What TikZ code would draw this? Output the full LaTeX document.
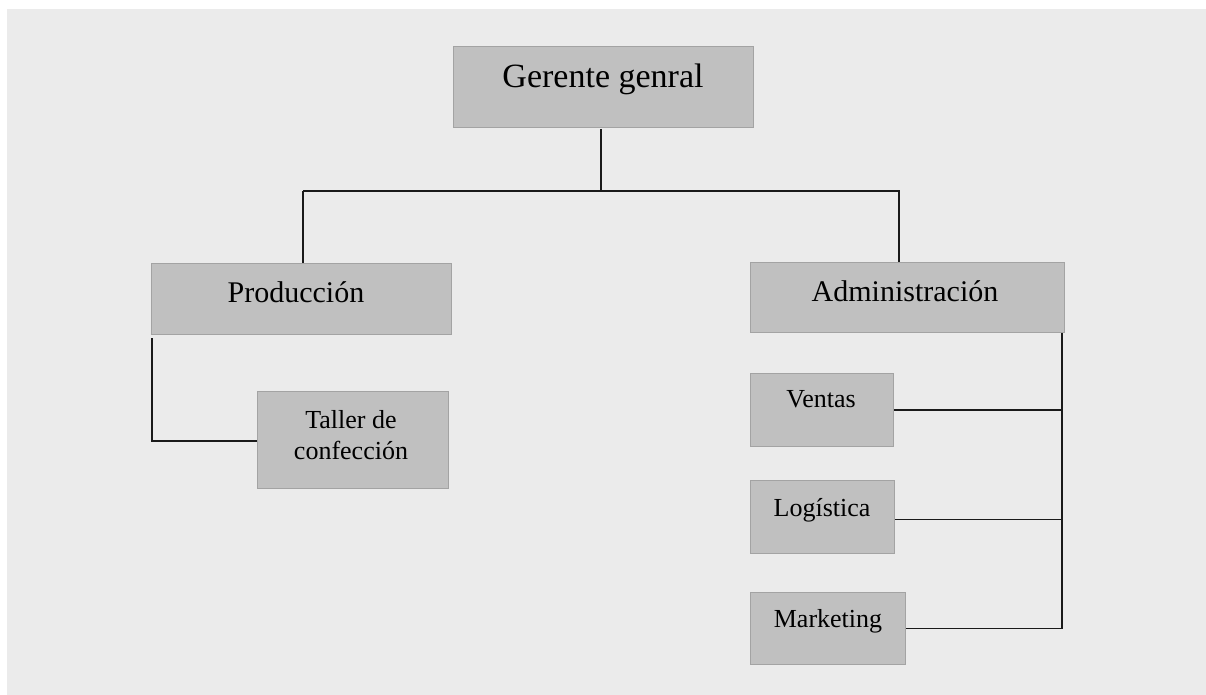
\documentclass[tikz,border=0pt]{standalone}
\usepackage{fontspec}
\setmainfont{Liberation Serif}
\definecolor{bgray}{HTML}{EBEBEB}
\definecolor{boxfill}{HTML}{C0C0C0}
\definecolor{boxline}{HTML}{A3A3A3}
\definecolor{conn}{HTML}{1A1A1A}
\tikzset{
  orgbox/.style={draw=boxline, fill=boxfill, line width=1.2pt, inner sep=0pt, anchor=north west},
  lbl/.style={anchor=base, inner sep=0pt, text=black},
  big/.style={font=\fontsize{34}{40}\selectfont},
  mid/.style={font=\fontsize{30}{36}\selectfont},
  small/.style={font=\fontsize{26}{31}\selectfont},
  link/.style={draw=conn, line width=1.4pt}
}
\begin{document}
\begin{tikzpicture}[x=1pt,y=-1pt]
\useasboundingbox (0,0) rectangle (1206,695);
\fill[white] (0,0) rectangle (1206,695);
\fill[bgray] (7,9) rectangle (1206,695);

% boxes
\node[orgbox, minimum width=300pt, minimum height=81pt] (ger) at (453,46) {};
\node[orgbox, minimum width=300pt, minimum height=71pt] (prod) at (151,263) {};
\node[orgbox, minimum width=314pt, minimum height=70pt] (adm) at (750,262) {};
\node[orgbox, minimum width=191pt, minimum height=97pt] (tall) at (257,391) {};
\node[orgbox, minimum width=143pt, minimum height=73pt] (vent) at (750,373) {};
\node[orgbox, minimum width=144pt, minimum height=73pt] (logi) at (750,480) {};
\node[orgbox, minimum width=155pt, minimum height=72pt] (mark) at (750,592) {};

% labels
\node[lbl, big] (tger) at (603,88) {Gerente genral};
\node[lbl, mid] (tprod) at (296,302) {Producción};
\node[lbl, mid] (tadm) at (905,301) {Administración};
\node[lbl, small] (ttal1) at (351,428) {Taller de};
\node[lbl, small] (ttal2) at (351,459) {confección};
\node[lbl, small] (tvent) at (821,407) {Ventas};
\node[lbl, small] (tlogi) at (822,516) {Logística};
\node[lbl, small] (tmark) at (828,627) {Marketing};

% connector points
\coordinate (busL) at (303,191);
\coordinate (busR) at (900,191);
\coordinate (rtop) at (1062,333);
\coordinate (rbot) at (1062,629);
\coordinate (lcorner) at (152,441);

% connectors
\draw[link] (601,129) coordinate (gdrop) -- (gdrop |- busL);
\draw[link] (busL) -- (busR);
\draw[link] (busL) -- (busL |- prod.north);
\draw[link] ([xshift=-1pt]busR) -- ([xshift=-1pt]busR |- adm.north);
\draw[link] ([yshift=-3pt]lcorner |- prod.south) -- (lcorner) -- (lcorner -| tall.west);
\draw[link] (rtop) -- (rbot);
\draw[link] (vent.east) -- (vent.east -| rtop);
\draw[link] ([yshift=-2.5pt]logi.east) -- ([yshift=-2.5pt]logi.east -| rtop);
\draw[link] (mark.east) -- (mark.east -| rbot);
\end{tikzpicture}
\end{document}
